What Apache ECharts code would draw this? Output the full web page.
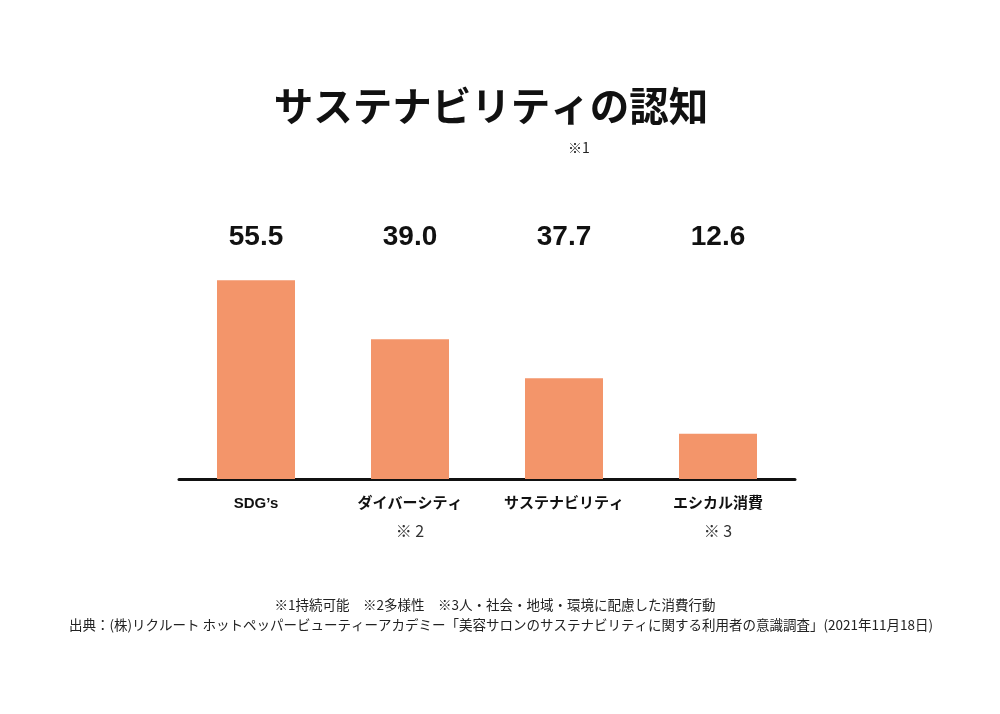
<!DOCTYPE html>
<html>
	<head>
		<meta charset="utf-8">
		<title>サステナビリティの認知</title>
		<style>
			html,body{margin:0;padding:0;background:#fff;}
			#main{width:1000px;height:714px;}
		</style>
	</head>
	<body>
		<div id="main"></div>
		<script src="https://cdn.jsdelivr.net/npm/echarts@6/dist/echarts.min.js"></script>
		<script>
			// 項目名と注記
			var categories=['SDG’s','ダイバーシティ','サステナビリティ','エシカル消費'];
			var notes=['','※ 2','','※ 3'];
			// 表示されている数値
			var shownValues=['55.5','39.0','37.7','12.6'];
			// 棒の高さ（元図では3本目が数値より短く描かれている）
			var barValues=[55.5,39.0,28.1,12.6];

			var font='"Noto Sans CJK JP", "Noto Sans", sans-serif';
			var latin='"Liberation Sans", "Noto Sans CJK JP", sans-serif';

			var mychart=echarts.init(document.getElementById('main'));
			var option={
				backgroundColor:'#fff',
				textStyle:{fontFamily:font},
				title:[
					{
						text:'サステナビリティの認知',
						left:486,top:81,textAlign:'center',
						textStyle:{fontSize:39.5,fontWeight:'bold',color:'#111',fontFamily:font}
					},
					{
						text:'※1',
						left:574,top:136,textAlign:'center',
						textStyle:{fontSize:14,fontWeight:'normal',color:'#222',fontFamily:font}
					},
					{
						text:'※1持続可能　※2多様性　※3人・社会・地域・環境に配慮した消費行動',
						left:490,top:593,textAlign:'center',
						textStyle:{fontSize:13.5,fontWeight:'normal',color:'#222',fontFamily:font}
					},
					{
						text:'出典：(株)リクルート ホットペッパービューティーアカデミー「美容サロンのサステナビリティに関する利用者の意識調査」(2021年11月18日)',
						left:496,top:613,textAlign:'center',
						textStyle:{fontSize:13.5,fontWeight:'normal',color:'#222',fontFamily:font}
					}
				],
				grid:{left:179,width:616,top:264,height:215},
				xAxis:[
					{
						type:'category',
						data:categories,
						axisLine:{lineStyle:{color:'#111',width:3}},
						axisTick:{show:false},
						axisLabel:{
							margin:11,
							formatter:function(v,i){
								return notes[i]?'{n|'+v+'}\n{s|'+notes[i]+'}':'{n|'+v+'}';
							},
							rich:{
								n:{fontSize:15,fontWeight:'bold',color:'#111',lineHeight:27,fontFamily:latin},
								s:{fontSize:16,fontWeight:'normal',color:'#333',lineHeight:27,fontFamily:font}
							}
						}
					},
					{
						type:'category',
						position:'top',
						data:shownValues,
						axisLine:{show:false},
						axisTick:{show:false},
						axisLabel:{margin:13,fontSize:28,fontWeight:'bold',color:'#111',fontFamily:latin}
					}
				],
				yAxis:{type:'value',min:0,max:60,show:false,splitLine:{show:false}},
				series:[
					{
						type:'bar',
						data:barValues,
						barWidth:78,
						itemStyle:{color:'#F3956A'},
						z:1
					}
				]
			};
			mychart.setOption(option);
		</script>
	</body>
</html>
